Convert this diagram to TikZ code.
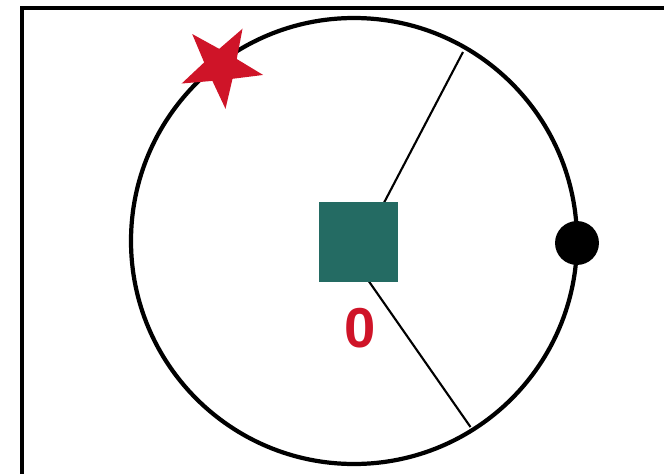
\documentclass[tikz,border=0pt]{standalone}
\usepackage{fontspec}
\setmainfont{Liberation Sans}
\usetikzlibrary{shapes.geometric}

\definecolor{dialteal}{HTML}{246B63}
\definecolor{dialred}{HTML}{CF1428}

\begin{document}
\begin{tikzpicture}[x=0.02cm,y=-0.02cm,
    hub/.style={rectangle,fill=dialteal,minimum size=45pt,inner sep=0pt},
    marker/.style={star,star points=5,star point ratio=2.5,fill=dialred,
      minimum size=49pt,inner sep=0pt,rotate=-30},
    knob/.style={circle,fill=black,minimum size=25pt,inner sep=0pt},
    hand/.style={line width=1.2pt}]

\useasboundingbox (0,0) rectangle (664,474);
\clip (0,0) rectangle (664,474);

% Frame
\draw[line width=2pt] (22,520) -- (22,8) -- (700,8);

% Dial
\coordinate (c) at (354,241);
\draw[line width=2.4pt] (c) circle (223);

% Hands
\coordinate (pivot) at (354,260);
\coordinate (upper) at (463,52);
\coordinate (lower) at (470.5,427);
\draw[hand] (pivot) -- (upper);
\draw[hand] (pivot) -- (lower);

% Centre and value
\node[hub] (h) at (358.5,242) {};
\node[text=dialred,font=\bfseries\fontsize{32}{32}\selectfont] (v) at (360,328) {0};

% Markers on the dial
\node[marker] (s) at (221,66) {};
\node[knob] (k) at (577,243) {};

\end{tikzpicture}
\end{document}
